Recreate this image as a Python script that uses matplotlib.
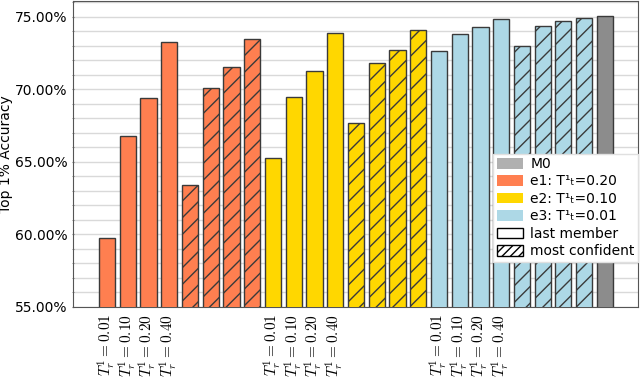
import numpy as np
import matplotlib
matplotlib.use("Agg")
import matplotlib.pyplot as plt
from matplotlib.patches import Patch
from matplotlib.ticker import MultipleLocator, PercentFormatter

plt.rcParams["mathtext.fontset"] = "cm"

temps = ["0.01", "0.10", "0.20", "0.40"]

# top-1% accuracy per experiment: last member / most confident
e1_last = [59.77, 66.76, 69.38, 73.24]
e1_conf = [63.42, 70.09, 71.53, 73.47]
e2_last = [65.23, 69.50, 71.28, 73.86]
e2_conf = [67.69, 71.80, 72.71, 74.08]
e3_last = [72.65, 73.80, 74.30, 74.86]
e3_conf = [72.95, 74.33, 74.73, 74.93]
m0 = 75.07

colors = {"e1": "#FF7F50", "e2": "#FFD700", "e3": "#ADD8E6"}
edge = "#3a3a3a"
width = 0.78

fig = plt.figure(figsize=(6.4, 3.85), dpi=100)
ax = fig.add_axes([0.114, 0.203, 0.883, 0.795])

series = [("e1", e1_last, e1_conf), ("e2", e2_last, e2_conf), ("e3", e3_last, e3_conf)]
ticks, ticklabels = [], []
pos = 0
for name, last, conf in series:
    x = np.arange(len(last)) + pos
    ax.bar(x, last, width=width, color=colors[name], edgecolor=edge, lw=1, zorder=3)
    ticks += list(x)
    ticklabels += [r"$T^1_r = %s$" % t for t in temps]
    x2 = x + len(last)
    ax.bar(x2, conf, width=width, color=colors[name], edgecolor=edge, lw=1,
           hatch="//", zorder=3)
    pos += 2 * len(last)
ax.bar(pos, m0, width=width, color="#8c8c8c", edgecolor=edge, lw=1, zorder=3)

ax.set_ylim(55, 76.1)
ax.set_xlim(-1.64, 25.6)
ax.yaxis.set_major_locator(MultipleLocator(5))
ax.yaxis.set_minor_locator(MultipleLocator(1))
ax.yaxis.set_major_formatter(PercentFormatter(decimals=2))
ax.grid(True, axis="y", which="both", color="#d9d9d9", lw=1, zorder=0)
ax.set_xticks(ticks)
ax.set_xticklabels(ticklabels, rotation=90, fontsize=11)
ax.tick_params(axis="x", length=0, pad=5)
ax.tick_params(axis="y", which="both", length=2, color="#777777",
               direction="inout", labelsize=10, pad=3)
ax.set_ylabel("Top 1% Accuracy", fontsize=10)
ax.yaxis.set_label_coords(-0.106, 0.5)
for s in ax.spines.values():
    s.set_color("#555555")

handles = [
    Patch(facecolor="#b0b0b0", label="M0"),
    Patch(facecolor=colors["e1"], label="e1: T\u00b9\u209c=0.20"),
    Patch(facecolor=colors["e2"], label="e2: T\u00b9\u209c=0.10"),
    Patch(facecolor=colors["e3"], label="e3: T\u00b9\u209c=0.01"),
    Patch(facecolor="white", edgecolor="black", label="last member"),
    Patch(facecolor="white", edgecolor="black", hatch="////", label="most confident"),
]
leg = ax.legend(handles=handles, loc="lower right", bbox_to_anchor=(1.0, 0.147),
                fontsize=10, borderaxespad=0, fancybox=False, framealpha=1,
                handlelength=1.9, handleheight=0.8, labelspacing=0.25,
                borderpad=0.25, handletextpad=0.5)
leg.get_frame().set_edgecolor("#e0e0e0")
leg.set_zorder(5)

fig.savefig("out.png", dpi=100)
